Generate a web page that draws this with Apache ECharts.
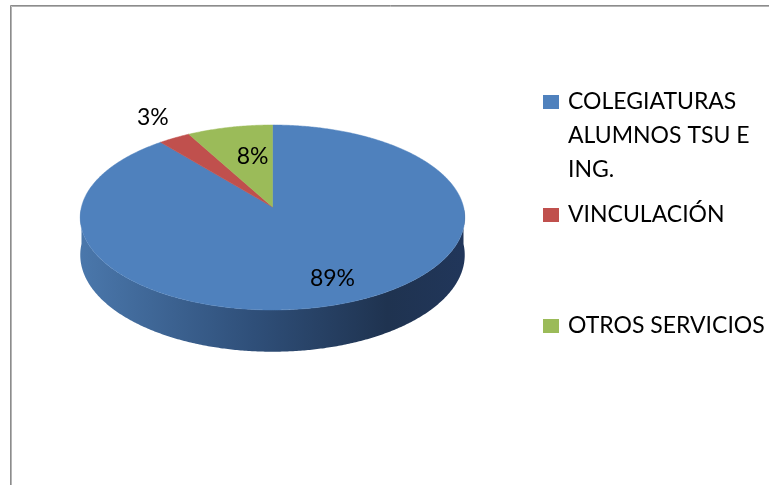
<!DOCTYPE html>
<html>
<head>
<meta charset="utf-8">
<script src="https://cdn.jsdelivr.net/npm/echarts@6/dist/echarts.min.js"></script>
<style>
  html, body { margin: 0; padding: 0; background: #ffffff; }
  #chart { width: 769px; height: 485px; }
</style>
</head>
<body>
<div id="chart"></div>
<script>
// ---- data ----
const categories = ['COLEGIATURAS ALUMNOS TSU E ING.', 'VINCULACIÓN', 'OTROS SERVICIOS'];
const values = [89, 3, 8];
const legendLines = [['COLEGIATURAS', 'ALUMNOS TSU E', 'ING.'], ['VINCULACIÓN'], ['OTROS SERVICIOS']];

// ---- styles ----
const topColors = ['#4f81bd', '#c0504d', '#9bbb59'];
const sideColors = [
  ['#4a77ab', '#2f4f79', '#1f3350', '#21365a'],
  ['#9a3f3d', '#7a302e', '#5e2422', '#632624'],
  ['#7d9848', '#627838', '#4a5b2a', '#4e602c']
];
const FONT = 'Lato, "Liberation Sans", sans-serif';
const FONT_SIZE = 23;
const LINE_H = 34;

// ---- disc geometry (perspective-tilted cylinder) ----
const CX = 272.5, CY = 207;   // projected centre of the top face
const RX = 191, RY = 91.3;    // half axes of the top face
const K = 0.1135;             // perspective strength (near side larger)
const DEPTH = 37;             // thickness of the disc
const LABEL_R = 0.7, LABEL_OUT_R = 1.28;
const LABEL_DX = 11, LABEL_DY = 7;
const LABEL_OUT_DX = 3, LABEL_OUT_DY = -3;

const legendIconTops = [95, 208, 319];

const total = values.reduce((a, b) => a + b, 0);

// angle in degrees, clockwise from 12 o'clock; r = radial fraction; h = drop below top face
function proj(angDeg, r, h) {
  const t = angDeg * Math.PI / 180;
  const u = Math.sin(t) * r;
  const v = -Math.cos(t) * r;
  const w = 1 / (1 - K * v);
  return [CX + RX * u * w, CY + RY * v * w + h * w];
}

function arc(a0, a1, h) {
  const pts = [];
  const n = Math.max(2, Math.ceil((a1 - a0) / 0.5));
  for (let i = 0; i <= n; i++) pts.push(proj(a0 + (a1 - a0) * i / n, 1, h));
  return pts;
}

function renderSlice(params, api) {
  const idx = params.seriesIndex;
  const val = api.value(0);
  let before = 0;
  for (let j = 0; j < idx; j++) before += values[j];
  const a0 = before / total * 360;
  const a1 = (before + val) / total * 360;
  const children = [];

  // visible outer wall (front half of the disc)
  const s = Math.max(a0, 90), e = Math.min(a1, 270);
  if (s < e) {
    const pts = arc(s, e, 0).concat(arc(s, e, DEPTH).reverse());
    const sc = sideColors[idx];
    children.push({
      type: 'polygon',
      z2: 0,
      shape: { points: pts },
      style: {
        fill: new echarts.graphic.LinearGradient(CX - RX, 0, CX + RX, 0, [
          { offset: 0, color: sc[0] },
          { offset: 0.45, color: sc[1] },
          { offset: 0.8, color: sc[2] },
          { offset: 1, color: sc[3] }
        ], true),
        stroke: null
      }
    });
  }

  // top face
  const topPts = [proj(0, 0, 0)].concat(arc(a0, a1, 0));
  children.push({
    type: 'polygon',
    z2: 10,
    shape: { points: topPts },
    style: { fill: topColors[idx], stroke: topColors[idx], lineWidth: 0.5 }
  });

  // percentage label
  const pct = Math.round(val / total * 100);
  const mid = (a0 + a1) / 2;
  let pos;
  if (pct < 5) {
    pos = proj(mid, LABEL_OUT_R, 0);
    pos = [pos[0] + LABEL_OUT_DX, pos[1] + LABEL_OUT_DY];
  } else {
    pos = proj(mid, LABEL_R, 0);
    pos = [pos[0] + LABEL_DX, pos[1] + LABEL_DY];
  }
  children.push({
    type: 'text',
    z2: 20,
    style: {
      text: pct + '%',
      x: pos[0], y: pos[1],
      align: 'center', verticalAlign: 'middle',
      fontFamily: FONT, fontSize: FONT_SIZE, fill: '#000000'
    }
  });

  return { type: 'group', children: children };
}

const series = categories.map((name, i) => ({
  type: 'custom',
  name: name,
  coordinateSystem: 'none',
  renderItem: renderSlice,
  itemStyle: { color: topColors[i] },
  data: [[values[i]]],
  silent: true
}));

// Each legend entry is centred on its text block, so blank lines are
// prepended to keep the marker level with the first line of wrapped text.
const legends = categories.map((name, i) => {
  const n = legendLines[i].length;
  const lead = new Array(n - 1).fill('');
  const rectOffset = 7 - LINE_H * n + LINE_H / 2;
  return {
    data: [name],
    left: 543,
    top: legendIconTops[i] + rectOffset,
    orient: 'vertical',
    padding: 0,
    icon: 'rect',
    itemWidth: 16,
    itemHeight: 14,
    itemGap: 0,
    selectedMode: false,
    formatter: () => lead.concat(legendLines[i]).join('\n'),
    textStyle: {
      fontFamily: FONT, fontSize: FONT_SIZE, lineHeight: LINE_H,
      color: '#000000', padding: [0, 0, 0, 4]
    }
  };
});

const chart = echarts.init(document.getElementById('chart'), null, { renderer: 'canvas' });
chart.setOption({
  backgroundColor: '#ffffff',
  animation: false,
  legend: legends,
  series: series,
  graphic: [
    { type: 'rect', silent: true, z: -1,
      shape: { x: 10.5, y: 5.5, width: 820, height: 520 },
      style: { fill: null, stroke: '#8c8c8c', lineWidth: 1 } },
    { type: 'rect', silent: true, z: -1,
      shape: { x: 11.5, y: 6.5, width: 820, height: 520 },
      style: { fill: null, stroke: '#b4b4b4', lineWidth: 1 } }
  ]
});
</script>
</body>
</html>
